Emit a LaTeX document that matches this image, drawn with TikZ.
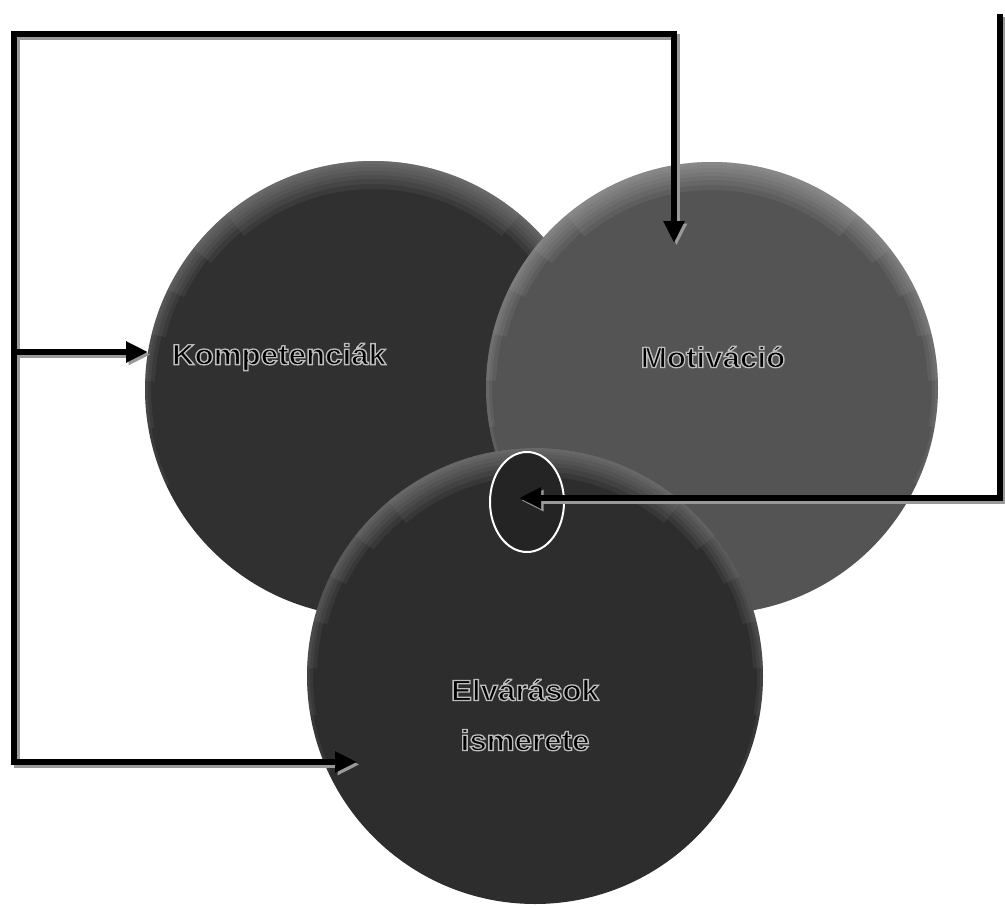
\documentclass[tikz,border=0pt]{standalone}
\usepackage{fontspec}
\setmainfont{Liberation Sans}
\usetikzlibrary{arrows.meta,shapes.geometric,calc}
\definecolor{kin}{HTML}{303030}
\definecolor{min}{HTML}{545454}
\definecolor{ein}{HTML}{2D2D2D}
\definecolor{rimk}{HTML}{A0A0A0}
\definecolor{rimm}{HTML}{BDBDBD}
\newcommand{\hlab}[1]{\scalebox{1.08}[1]{\special{pdf:literal direct 0.74 G 1.3 w 2 Tr}#1\special{pdf:literal direct 0 Tr}}}
\newcommand{\toprim}[3]{% center, radius, colour
  \begin{scope}
    \clip (#1) circle (#2);
    \foreach \a/\w in {115/3, 100/6, 88/10, 76/14, 64/18, 52/23, 40/28}{
      \draw[#3, opacity=0.10, line width=2*\w] ($(#1)+(270-\a:#2)$) arc[start angle=270-\a, end angle=270+\a, radius=#2];
    }
  \end{scope}}
\begin{document}
\begin{tikzpicture}[x=1pt,y=-1pt,
  conn/.style={line width=6pt, draw=black, line join=miter,
    preaction={draw=black!40, line width=6pt, transform canvas={shift={(2.5pt,-2.5pt)}}}},
  tipend/.style={-{Triangle[length=22pt,width=20pt]}},
  bothend/.style={{Triangle[length=22pt,width=20pt]}-{Triangle[length=22pt,width=20pt]}},
  lbl/.style={font=\fontsize{29}{50}\selectfont\bfseries, text=black, align=center, inner sep=0pt},
  ball/.style={circle, inner sep=0pt, minimum size=#1},
]
\useasboundingbox (0,0) rectangle (1005,908);
% circles
\node[ball=456pt, fill=kin] (K) at (373,389) {};
\toprim{K.center}{228}{rimk}
\node[ball=452pt, fill=min] (M) at (712,388) {};
\toprim{M.center}{226}{rimm}
\node[ball=456pt, fill=ein] (E) at (535,676) {};
\toprim{E.center}{228}{rimk}
\node[ellipse, draw=white, line width=2pt, fill=black!86, minimum width=74pt, minimum height=100pt, inner sep=0pt] (H) at (527,502) {};
% labels
\node[lbl] (kt) at (279,357) {\hlab{Kompetenciák}};
\node[lbl] (mt) at (713,357) {\hlab{Motiváció}};
\node[lbl] (et) at (525,715) {\hlab{Elvárások}\\\hlab{ismerete}};
% connector points
\coordinate (TL) at (14,34);
\coordinate (TR) at (674,34);
\coordinate (mTip) at (674,243);
\coordinate (BL) at (14,762);
\coordinate (eTip) at (357,762);
\coordinate (J) at (14,352);
\coordinate (kTip) at (148,352);
\coordinate (RT) at (1000,14);
\coordinate (RB) at (1000,498);
\coordinate (hTip) at (519,498);
% connectors
\draw[conn, bothend] (mTip) -- (TR) -- (TL) -- (BL) -- (eTip);
\draw[conn, tipend] (J) -- (kTip);
\draw[conn, tipend] (RT) -- (RB) -- (hTip);
\end{tikzpicture}
\end{document}
